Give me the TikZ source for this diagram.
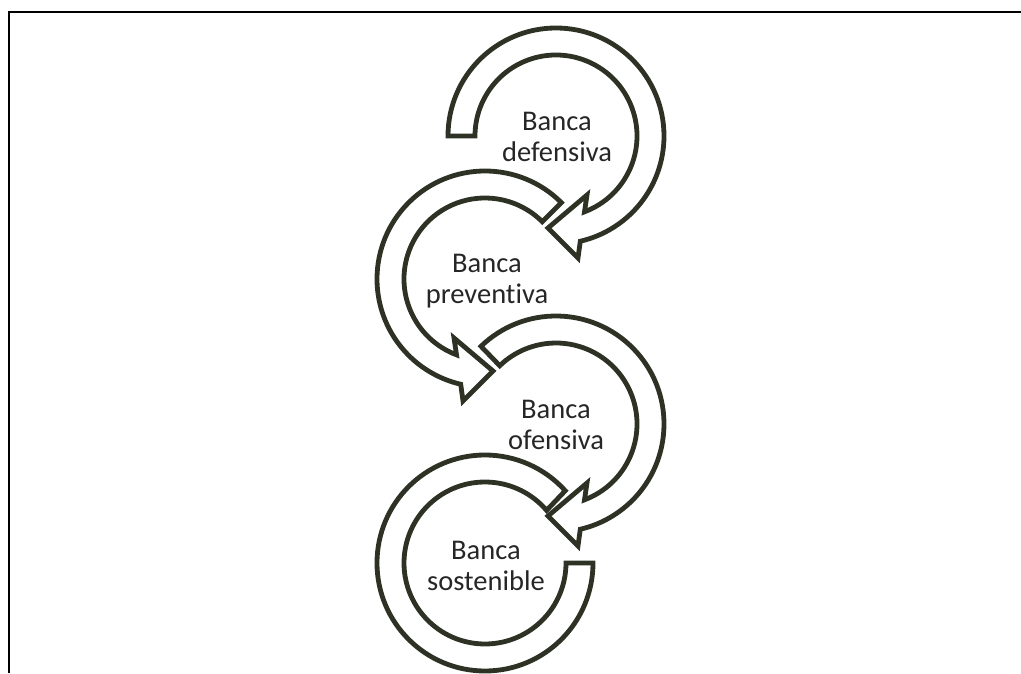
\documentclass[tikz,border=0pt]{standalone}
\usepackage{fontspec}
\setmainfont{Carlito}[RawFeature=-liga]
\usetikzlibrary{calc}
\definecolor{bandline}{RGB}{46,50,37}
\definecolor{labeltext}{RGB}{38,38,38}
\tikzset{
  arrowband/.style={draw=bandline, line width=4.8pt, fill=white, line join=miter},
  stagelabel/.style={font=\fontsize{28.5}{31}\selectfont, text=labeltext, align=center, inner sep=0pt},
  framerule/.style={draw=black, line width=2pt}
}
\begin{document}
\begin{tikzpicture}[x=1pt, y=1pt]
  \useasboundingbox (0,0) rectangle (1021,673);

  % open frame: top and left rules only
  \coordinate (ftl) at (8.5,661);
  \coordinate (fbl) at (8.5,0);
  \coordinate (ftr) at (1021,661);
  \draw[framerule] (fbl) -- (ftl) -- (ftr);

  % centres of the four circular bands
  \coordinate (c1) at (556,537);
  \coordinate (c2) at (485,394);
  \coordinate (c3) at (556,249);
  \coordinate (c4) at (485,110);

  % 1: clockwise arrow, tail on the left
  \begin{scope}[shift={(c1)}]
    \draw[arrowband] (180:81) -- (180:108) arc[start angle=180, end angle=-77, radius=108]
      -- (22,-122) -- (-8,-92) -- (31,-59) -- (-69.4:81)
      arc[start angle=-69.4, end angle=180, radius=81] -- cycle;
  \end{scope}

  % 2: counter-clockwise arrow, tail at upper right
  \begin{scope}[shift={(c2)}]
    \draw[arrowband] (45:81) -- (45:108) arc[start angle=45, end angle=257, radius=108]
      -- (-22,-122) -- (8,-92) -- (-31,-59) -- (249.4:81)
      arc[start angle=249.4, end angle=45, radius=81] -- cycle;
  \end{scope}

  % 3: clockwise arrow, tail at upper left
  \begin{scope}[shift={(c3)}]
    \draw[arrowband] (134:81) -- (134:108) arc[start angle=134, end angle=-77, radius=108]
      -- (22,-122) -- (-8,-92) -- (31,-59) -- (-69.4:81)
      arc[start angle=-69.4, end angle=134, radius=81] -- cycle;
  \end{scope}

  % 4: plain band, open on the upper right
  \begin{scope}[shift={(c4)}]
    \draw[arrowband] (0:81) -- (0:108) arc[start angle=0, end angle=-318, radius=108]
      -- (-319.5:81) arc[start angle=-319.5, end angle=0, radius=81] -- cycle;
  \end{scope}

  % labels
  \node[stagelabel] (l1) at ($(c1)+(1,-1)$) {Banca\\defensiva};
  \node[stagelabel] (l2) at ($(c2)+(2,-2)$) {Banca\\preventiva};
  \node[stagelabel] (l3) at ($(c3)+(0,-1)$) {Banca\\ofensiva};
  \node[stagelabel] (l4) at ($(c4)+(1,-3)$) {Banca\\sostenible};
\end{tikzpicture}
\end{document}
